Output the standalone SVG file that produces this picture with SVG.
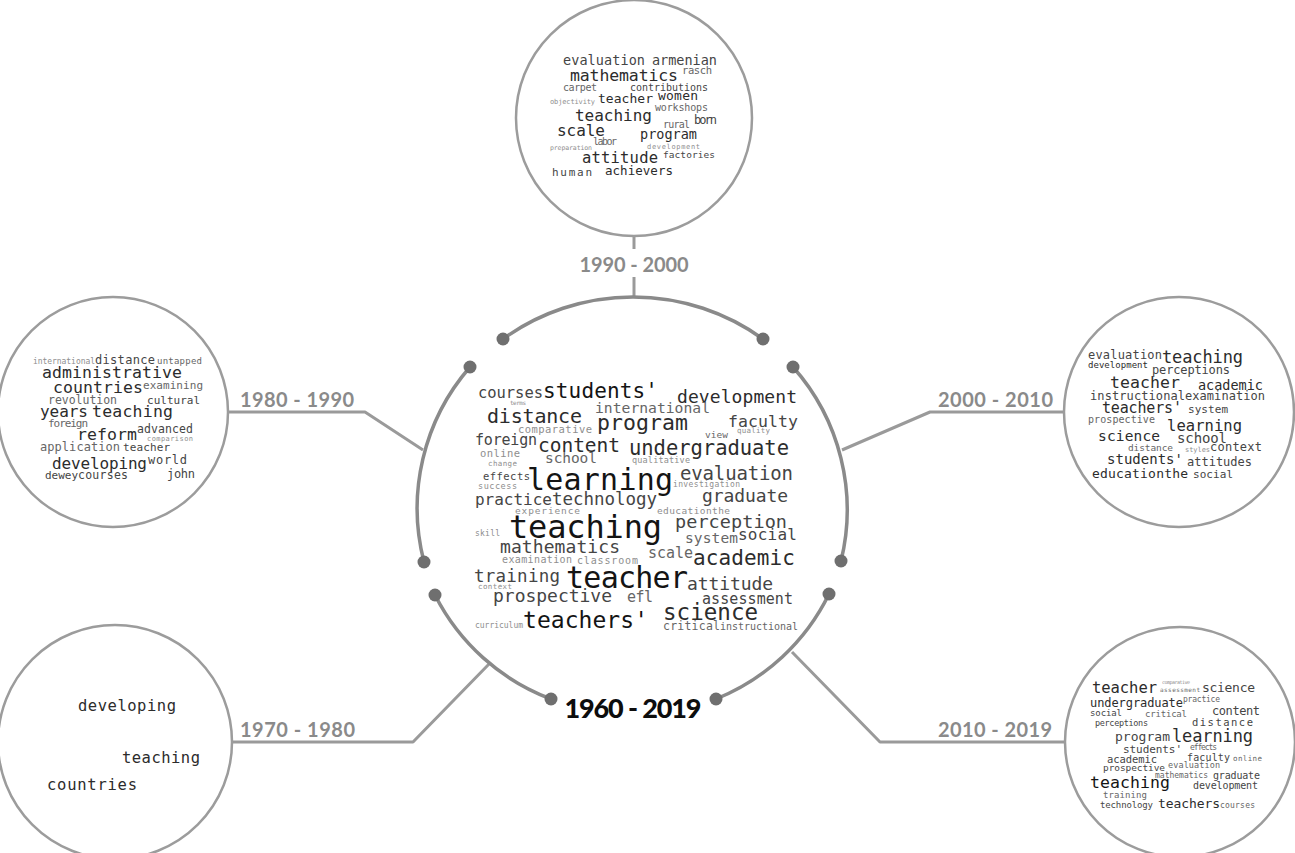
<svg xmlns="http://www.w3.org/2000/svg" width="1295" height="853" viewBox="0 0 1295 853">
<style>
.bg{fill:#ffffff}
.ring{fill:#ffffff;stroke:#9c9c9c;stroke-width:2.5}
.arc{fill:none;stroke:#8a8a8a;stroke-width:3.5;stroke-linecap:round}
.con{fill:none;stroke:#9a9a9a;stroke-width:3;stroke-linejoin:round}
.dot{fill:#6f6f6f}
.lbl{font-family:"Lato","Open Sans","Liberation Sans",sans-serif;font-weight:700;fill:#8a8a8a;font-size:20px}
.main{font-family:"Lato","Open Sans","Liberation Sans",sans-serif;font-weight:900;fill:#0d0d0d;font-size:27px}
.w{font-family:"DejaVu Sans Mono","Liberation Mono",monospace}
.c1{fill:#141414}.c2{fill:#2c2c2c}.c3{fill:#454545}.c4{fill:#666666}.c5{fill:#8e8e8e}
</style>
<rect class="bg" x="0" y="0" width="1295" height="853"/>

<g id="connectors">
  <line class="con" x1="634" y1="236" x2="634" y2="249"/>
  <line class="con" x1="634" y1="277" x2="634" y2="297"/>
  <polyline class="con" points="228,412 365,412 423,450"/>
  <polyline class="con" points="842,450 930,412 1064,412"/>
  <polyline class="con" points="490,663 413,742 232,742"/>
  <polyline class="con" points="792,652 880,742 1066,742"/>
  <text class="lbl" x="634" y="272" text-anchor="middle" textLength="109">1990 - 2000</text>
  <text class="lbl" x="240" y="407" textLength="114">1980 - 1990</text>
  <text class="lbl" x="938" y="407" textLength="115">2000 - 2010</text>
  <text class="lbl" x="240" y="737" textLength="115">1970 - 1980</text>
  <text class="lbl" x="938" y="737" textLength="114">2010 - 2019</text>
</g>

<g id="center">
  <path class="arc" d="M503,339 A222,222 0 0 1 763,339"/>
  <path class="arc" d="M470,367 A215,215 0 0 0 424,562"/>
  <path class="arc" d="M793,367 A215,215 0 0 1 841,561"/>
  <path class="arc" d="M435,595 A215,215 0 0 0 551,699"/>
  <path class="arc" d="M716,699 A215,215 0 0 0 829,594"/>
  <circle class="dot" cx="470" cy="367" r="6.5"/>
  <circle class="dot" cx="503" cy="339" r="6.5"/>
  <circle class="dot" cx="763" cy="339" r="6.5"/>
  <circle class="dot" cx="793" cy="367" r="6.5"/>
  <circle class="dot" cx="424" cy="562" r="6.5"/>
  <circle class="dot" cx="841" cy="561" r="6.5"/>
  <circle class="dot" cx="435" cy="595" r="6.5"/>
  <circle class="dot" cx="829" cy="594" r="6.5"/>
  <circle class="dot" cx="551" cy="699" r="6.5"/>
  <circle class="dot" cx="716" cy="699" r="6.5"/>
  <text class="main" x="633" y="718" text-anchor="middle" textLength="137">1960 - 2019</text>
  <g class="w">
    <text class="c3" x="478" y="398" font-size="15.5" textLength="65">courses</text>
    <text class="c1" x="543" y="398" font-size="21" textLength="115">students'</text>
    <text class="c5" x="510" y="405" font-size="6" textLength="16">terms</text>
    <text class="c2" x="677" y="403" font-size="18" textLength="120">development</text>
    <text class="c4" x="595" y="413" font-size="14.7" textLength="115">international</text>
    <text class="c2" x="487" y="423" font-size="20" textLength="95">distance</text>
    <text class="c2" x="597" y="430" font-size="21.5" textLength="91">program</text>
    <text class="c3" x="728" y="427" font-size="16.5" textLength="70">faculty</text>
    <text class="c5" x="518" y="433" font-size="10.5" textLength="74">comparative</text>
    <text class="c4" x="705" y="438" font-size="9.5" textLength="23">view</text>
    <text class="c5" x="737" y="433" font-size="7.5" textLength="33">quality</text>
    <text class="c3" x="475" y="445" font-size="15" textLength="62">foreign</text>
    <text class="c2" x="538" y="452" font-size="19.5" textLength="82">content</text>
    <text class="c2" x="629" y="455" font-size="20.5" textLength="160">undergraduate</text>
    <text class="c5" x="480" y="457" font-size="10.5" textLength="40">online</text>
    <text class="c4" x="545" y="463" font-size="14.5" textLength="52">school</text>
    <text class="c5" x="632" y="463" font-size="8.5" textLength="58">qualitative</text>
    <text class="c5" x="488" y="466" font-size="7.5" textLength="29">change</text>
    <text class="c3" x="680" y="480" font-size="19" textLength="113">evaluation</text>
    <text class="c3" x="483" y="480" font-size="10.5" textLength="47">effects</text>
    <text class="c5" x="673" y="487" font-size="8" textLength="67">investigation</text>
    <text class="c5" x="478" y="489" font-size="8.5" textLength="39">success</text>
    <text class="c1" x="527" y="490" font-size="30" textLength="146">learning</text>
    <text class="c3" x="702" y="502" font-size="18" textLength="86">graduate</text>
    <text class="c3" x="475" y="505" font-size="16" textLength="77">practice</text>
    <text class="c3" x="552" y="505" font-size="17.5" textLength="105">technology</text>
    <text class="c5" x="515" y="514" font-size="9.5" textLength="65">experience</text>
    <text class="c5" x="657" y="514" font-size="9.5" textLength="73">educationthe</text>
    <text class="c3" x="675" y="528" font-size="18.5" textLength="112">perception</text>
    <text class="c1" x="509" y="538" font-size="32" textLength="153">teaching</text>
    <text class="c5" x="475" y="536" font-size="8" textLength="25">skill</text>
    <text class="c4" x="685" y="543" font-size="14.5" textLength="53">system</text>
    <text class="c3" x="738" y="540" font-size="16" textLength="59">social</text>
    <text class="c3" x="500" y="553" font-size="18" textLength="120">mathematics</text>
    <text class="c4" x="648" y="558" font-size="15" textLength="45">scale</text>
    <text class="c2" x="693" y="565" font-size="21" textLength="102">academic</text>
    <text class="c5" x="502" y="563" font-size="10" textLength="70">examination</text>
    <text class="c5" x="577" y="564" font-size="10" textLength="61">classroom</text>
    <text class="c3" x="474" y="582" font-size="17.5" textLength="86">training</text>
    <text class="c1" x="566" y="588" font-size="30" textLength="122">teacher</text>
    <text class="c5" x="478" y="589" font-size="7.5" textLength="34">context</text>
    <text class="c3" x="687" y="590" font-size="18" textLength="86">attitude</text>
    <text class="c3" x="493" y="602" font-size="18" textLength="119">prospective</text>
    <text class="c4" x="627" y="602" font-size="15" textLength="26">efl</text>
    <text class="c3" x="702" y="604" font-size="15" textLength="91">assessment</text>
    <text class="c2" x="663" y="620" font-size="22.5" textLength="95">science</text>
    <text class="c5" x="475" y="628" font-size="8" textLength="48">curriculum</text>
    <text class="c1" x="523" y="628" font-size="23" textLength="125">teachers'</text>
    <text class="c4" x="663" y="630" font-size="11.5" textLength="57">critical</text>
    <text class="c4" x="720" y="630" font-size="10" textLength="78">instructional</text>
  </g>
</g>

<g id="n1990">
  <circle class="ring" cx="634" cy="118" r="118"/>
  <g class="w">
    <text class="c3" x="563" y="65" font-size="13.5" textLength="82">evaluation</text>
    <text class="c3" x="652" y="65" font-size="13.5" textLength="65">armenian</text>
    <text class="c4" x="682" y="74" font-size="10.5" textLength="30">rasch</text>
    <text class="c2" x="570" y="81" font-size="16.5" textLength="108">mathematics</text>
    <text class="c4" x="563" y="91" font-size="10" textLength="34">carpet</text>
    <text class="c3" x="630" y="91" font-size="10" textLength="78">contributions</text>
    <text class="c5" x="550" y="104" font-size="7" textLength="45">objectivity</text>
    <text class="c2" x="598" y="103" font-size="13" textLength="55">teacher</text>
    <text class="c2" x="658" y="100" font-size="13" textLength="40">women</text>
    <text class="c4" x="655" y="111" font-size="10" textLength="53">workshops</text>
    <text class="c2" x="575" y="121" font-size="16" textLength="77">teaching</text>
    <text class="c3" x="694" y="124" font-size="12" textLength="23">born</text>
    <text class="c4" x="663" y="128" font-size="10" textLength="27">rural</text>
    <text class="c2" x="557" y="136" font-size="16" textLength="48">scale</text>
    <text class="c2" x="640" y="139" font-size="13.5" textLength="57">program</text>
    <text class="c4" x="593" y="145" font-size="10" textLength="24">labor</text>
    <text class="c5" x="550" y="150" font-size="6.5" textLength="42">preparation</text>
    <text class="c5" x="647" y="149" font-size="7" textLength="53">development</text>
    <text class="c3" x="663" y="158" font-size="9.5" textLength="52">factories</text>
    <text class="c2" x="582" y="163" font-size="15.5" textLength="76">attitude</text>
    <text class="c3" x="552" y="176" font-size="11" textLength="40">human</text>
    <text class="c2" x="605" y="175" font-size="12.5" textLength="68">achievers</text>
  </g>
</g>

<g id="n1980">
  <circle class="ring" cx="113" cy="412" r="115"/>
  <g class="w">
    <text class="c5" x="33" y="364" font-size="8" textLength="62">international</text>
    <text class="c3" x="95" y="364" font-size="12" textLength="60">distance</text>
    <text class="c4" x="157" y="364" font-size="9" textLength="45">untapped</text>
    <text class="c2" x="42" y="378" font-size="16.5" textLength="140">administrative</text>
    <text class="c2" x="53" y="393" font-size="16.5" textLength="90">countries</text>
    <text class="c4" x="143" y="389" font-size="11" textLength="60">examining</text>
    <text class="c4" x="48" y="404" font-size="11.5" textLength="69">revolution</text>
    <text class="c3" x="147" y="404" font-size="11" textLength="53">cultural</text>
    <text class="c2" x="40" y="417" font-size="16" textLength="48">years</text>
    <text class="c2" x="92" y="417" font-size="16.5" textLength="81">teaching</text>
    <text class="c4" x="48" y="427" font-size="11" textLength="40">foreign</text>
    <text class="c2" x="77" y="440" font-size="16.5" textLength="60">reform</text>
    <text class="c3" x="137" y="433" font-size="11.5" textLength="56">advanced</text>
    <text class="c5" x="147" y="441" font-size="7" textLength="46">comparison</text>
    <text class="c4" x="40" y="451" font-size="12" textLength="80">application</text>
    <text class="c3" x="123" y="451" font-size="11" textLength="47">teacher</text>
    <text class="c2" x="52" y="469" font-size="16" textLength="95">developing</text>
    <text class="c3" x="148" y="464" font-size="12" textLength="39">world</text>
    <text class="c3" x="45" y="479" font-size="11" textLength="33">dewey</text>
    <text class="c3" x="78" y="479" font-size="11.5" textLength="50">courses</text>
    <text class="c3" x="167" y="478" font-size="12" textLength="28">john</text>
  </g>
</g>

<g id="n2000">
  <circle class="ring" cx="1179" cy="412" r="115"/>
  <g class="w">
    <text class="c3" x="1088" y="359" font-size="12" textLength="74">evaluation</text>
    <text class="c2" x="1162" y="363" font-size="17" textLength="81">teaching</text>
    <text class="c2" x="1088" y="368" font-size="9" textLength="60">development</text>
    <text class="c3" x="1152" y="374" font-size="12" textLength="78">perceptions</text>
    <text class="c2" x="1110" y="388" font-size="16.5" textLength="70">teacher</text>
    <text class="c2" x="1198" y="390" font-size="13.5" textLength="65">academic</text>
    <text class="c3" x="1090" y="400" font-size="12" textLength="95">instructional</text>
    <text class="c3" x="1185" y="400" font-size="12" textLength="80">examination</text>
    <text class="c2" x="1102" y="413" font-size="15" textLength="80">teachers'</text>
    <text class="c3" x="1188" y="413" font-size="11" textLength="40">system</text>
    <text class="c4" x="1088" y="423" font-size="10" textLength="67">prospective</text>
    <text class="c2" x="1167" y="431" font-size="15.5" textLength="75">learning</text>
    <text class="c2" x="1098" y="441" font-size="14.5" textLength="62">science</text>
    <text class="c3" x="1177" y="443" font-size="14" textLength="50">school</text>
    <text class="c4" x="1128" y="451" font-size="9.5" textLength="45">distance</text>
    <text class="c5" x="1185" y="452" font-size="7" textLength="25">styles</text>
    <text class="c3" x="1210" y="451" font-size="12" textLength="52">context</text>
    <text class="c2" x="1107" y="464" font-size="14" textLength="76">students'</text>
    <text class="c3" x="1187" y="466" font-size="12" textLength="65">attitudes</text>
    <text class="c2" x="1092" y="478" font-size="13" textLength="96">educationthe</text>
    <text class="c3" x="1193" y="478" font-size="11" textLength="40">social</text>
  </g>
</g>

<g id="n1970">
  <circle class="ring" cx="115" cy="742" r="117"/>
  <g class="w">
    <text class="c2" x="78" y="711" font-size="15.5" textLength="98">developing</text>
    <text class="c2" x="122" y="763" font-size="15.5" textLength="78">teaching</text>
    <text class="c2" x="47" y="790" font-size="15.5" textLength="90">countries</text>
  </g>
</g>

<g id="n2010">
  <circle class="ring" cx="1180" cy="742" r="115"/>
  <g class="w">
    <text class="c2" x="1092" y="693" font-size="15.5" textLength="65">teacher</text>
    <text class="c5" x="1162" y="684" font-size="5" textLength="28">comparative</text>
    <text class="c4" x="1160" y="692" font-size="6" textLength="40">assessment</text>
    <text class="c3" x="1202" y="692" font-size="13" textLength="53">science</text>
    <text class="c2" x="1090" y="707" font-size="12" textLength="93">undergraduate</text>
    <text class="c4" x="1183" y="702" font-size="8" textLength="37">practice</text>
    <text class="c3" x="1090" y="716" font-size="9" textLength="32">social</text>
    <text class="c4" x="1145" y="717" font-size="9" textLength="42">critical</text>
    <text class="c3" x="1212" y="715" font-size="12" textLength="48">content</text>
    <text class="c3" x="1095" y="726" font-size="8.5" textLength="53">perceptions</text>
    <text class="c3" x="1192" y="726" font-size="10.5" textLength="61">distance</text>
    <text class="c3" x="1115" y="741" font-size="13" textLength="55">program</text>
    <text class="c2" x="1172" y="742" font-size="17" textLength="81">learning</text>
    <text class="c3" x="1123" y="753" font-size="11" textLength="59">students'</text>
    <text class="c4" x="1190" y="750" font-size="8" textLength="27">effects</text>
    <text class="c3" x="1107" y="763" font-size="10.5" textLength="50">academic</text>
    <text class="c3" x="1187" y="761" font-size="10" textLength="43">faculty</text>
    <text class="c4" x="1233" y="761" font-size="7.5" textLength="29">online</text>
    <text class="c3" x="1103" y="771" font-size="9.5" textLength="62">prospective</text>
    <text class="c4" x="1168" y="768" font-size="8.5" textLength="52">evaluation</text>
    <text class="c4" x="1155" y="778" font-size="8" textLength="53">mathematics</text>
    <text class="c3" x="1213" y="779" font-size="10" textLength="47">graduate</text>
    <text class="c1" x="1090" y="788" font-size="16.5" textLength="80">teaching</text>
    <text class="c3" x="1193" y="789" font-size="10" textLength="65">development</text>
    <text class="c4" x="1103" y="798" font-size="9" textLength="44">training</text>
    <text class="c3" x="1100" y="808" font-size="9" textLength="53">technology</text>
    <text class="c2" x="1158" y="808" font-size="13" textLength="62">teachers</text>
    <text class="c4" x="1220" y="808" font-size="8" textLength="35">courses</text>
  </g>
</g>
</svg>
